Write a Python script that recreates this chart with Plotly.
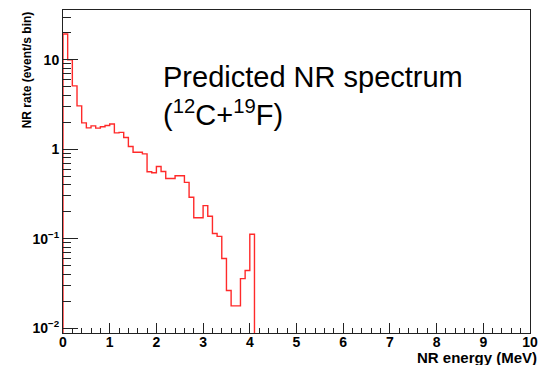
import numpy as np
import plotly.graph_objects as go

# Nuclear-recoil energy histogram, 0.1 MeV bins starting at 0 MeV
bin_width = 0.1
rate = [19.4, 10.0, 5.1, 3.05, 1.97, 1.73, 1.82, 1.72, 1.78, 1.84,
        1.91, 1.52, 1.54, 1.35, 1.07, 0.925, 0.925, 0.885, 0.56, 0.545,
        0.64, 0.563, 0.47, 0.47, 0.505, 0.505, 0.425, 0.29, 0.171, 0.171,
        0.234, 0.178, 0.114, 0.106, 0.06, 0.0263, 0.0177, 0.0177, 0.0357, 0.044,
        0.112]

y_tick_vals = [0.01, 0.1, 1, 10]
y_tick_text = ["10<sup>\u22122</sup>", "10<sup>\u22121</sup>", "1", "10"]
y_minor_vals = [0.009] + [m * 10.0 ** e for e in (-2, -1, 0) for m in range(2, 10)] + [20, 30]
x_tick_vals = list(range(0, 11))

y_lo, y_hi = 0.0088, 36.0
floor = 1e-4  # below the visible range, so the outline drops to the axis

low_edges = np.arange(len(rate)) * bin_width
x_line = [0.0] + list(low_edges) + [low_edges[-1] + bin_width]
y_line = [floor] + rate + [floor]

fig = go.Figure()
fig.add_trace(go.Scatter(
    x=x_line, y=y_line, mode="lines", line=dict(color="#ff2a2a", width=1.4, shape="hv"),
    hoverinfo="skip", showlegend=False,
))
# invisible trace carrying the minor-tick overlay axis
fig.add_trace(go.Scatter(x=[0], y=[1], yaxis="y2", mode="markers",
                         marker=dict(opacity=0), hoverinfo="skip", showlegend=False))

bold = dict(family="Liberation Sans, Arial, sans-serif", size=14, color="black", weight="bold")

fig.update_layout(
    width=547, height=365,
    margin=dict(l=63, r=9, t=9, b=32),
    paper_bgcolor="white", plot_bgcolor="white",
    xaxis=dict(
        range=[0, 10], showgrid=False, zeroline=False,
        showline=True, linecolor="#222", linewidth=1, mirror=True,
        tickvals=x_tick_vals, ticks="inside", ticklen=10, tickcolor="#222",
        tickfont=bold, ticklabelstandoff=-4,
        minor=dict(dtick=0.2, ticks="inside", ticklen=5, tickcolor="#222", showgrid=False),
    ),
    yaxis=dict(
        type="log", range=[np.log10(y_lo), np.log10(y_hi)], showgrid=False, zeroline=False,
        showline=True, linecolor="#222", linewidth=1, mirror=True,
        tickvals=y_tick_vals, ticktext=y_tick_text, ticks="inside", ticklen=15,
        tickcolor="#222", tickfont=bold,
    ),
    yaxis2=dict(
        type="log", range=[np.log10(y_lo), np.log10(y_hi)], overlaying="y", side="left",
        showgrid=False, zeroline=False, showline=False,
        tickvals=y_minor_vals, ticks="inside", ticklen=8, tickcolor="#222",
        showticklabels=False,
    ),
    annotations=[
        dict(text="NR energy (MeV)", xref="paper", yref="paper", x=1.0, y=-0.077,
             xanchor="right", yanchor="middle", xshift=9, showarrow=False,
             font=dict(bold, size=15)),
        dict(text="NR rate (event/s bin)", xref="paper", yref="paper", x=-0.078, y=0.815,
             xanchor="center", yanchor="middle", textangle=-90, showarrow=False,
             font=dict(bold, size=12)),
        dict(text="Predicted NR spectrum<br>(<sup>12</sup>C+<sup>19</sup>F)",
             xref="paper", yref="paper", x=0.2105, y=0.848, xanchor="left", yanchor="top",
             align="left", showarrow=False,
             font=dict(family="Liberation Sans, Arial, sans-serif", size=29, color="black")),
    ],
)

fig.write_html("out.html")
